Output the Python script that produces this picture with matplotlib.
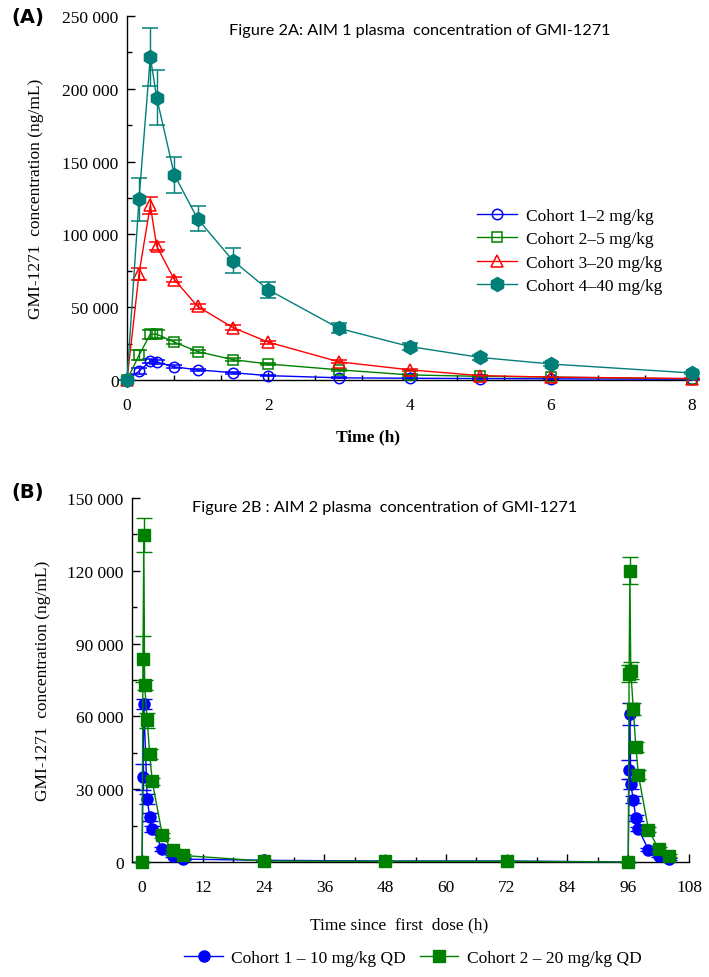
import matplotlib
matplotlib.use("Agg")
import matplotlib.pyplot as plt
from matplotlib.ticker import MultipleLocator, FuncFormatter

# --- Panel A: AIM 1, single dose (ng/mL) ---
time_a = [0, 0.17, 0.33, 0.42, 0.67, 1, 1.5, 2, 3, 4, 5, 6, 8]
c1_mean = [0, 6000, 13000, 12500, 9000, 7000, 5000, 3000, 1500, 1200, 1000, 800, 500]
c1_err = [0, 2000, 1500, 1500, 1000, 800, 600, 500, 300, 300, 300, 200, 200]
c2_mean = [0, 17000, 31500, 31500, 26000, 19500, 14000, 11000, 7000, 3500, 2500, 2000, 800]
c2_err = [0, 3500, 3000, 2500, 1500, 1200, 1000, 800, 600, 500, 400, 300, 200]
c3_mean = [0, 73000, 120000, 92000, 69000, 50500, 36000, 26000, 12500, 7000, 3000, 2000, 1000]
c3_err = [0, 4000, 6000, 3000, 2000, 2000, 1500, 1000, 1000, 800, 500, 400, 300]
c4_mean = [0, 124000, 222000, 194000, 141000, 110700, 82000, 62000, 35500, 23000, 15500, 11000, 4800]
c4_err = [0, 15000, 20000, 19000, 12500, 8500, 8500, 5500, 3500, 2500, 2000, 1500, 1000]

# --- Panel B: AIM 2, repeated daily dose (ng/mL) ---
time_b1 = [0, 0.17, 0.33, 1, 1.5, 2, 4, 6, 8, 24, 48, 72,
           96, 96.17, 96.33, 96.5, 97, 97.5, 98, 100, 102, 104]
qd10_mean = [0, 35000, 65000, 26000, 18500, 13600, 5400, 2500, 1200, 700, 400, 400,
             0, 38000, 61000, 32000, 25700, 18000, 13600, 5000, 2300, 1200]
qd10_err = [0, 5500, 2000, 2000, 1500, 1200, 800, 500, 300, 200, 100, 100,
            0, 4000, 4500, 2000, 1500, 1200, 1000, 600, 400, 300]
time_b2 = [0, 0.17, 0.33, 0.5, 1, 1.5, 2, 4, 6, 8, 24, 48, 72,
           96, 96.17, 96.33, 96.5, 97, 97.5, 98, 100, 102, 104]
qd20_mean = [0, 83800, 134600, 72800, 58400, 44400, 33200, 11000, 4800, 2700, 400, 300, 300,
             0, 77500, 120000, 78800, 63000, 47500, 36000, 13300, 5400, 2600]
qd20_err = [0, 9500, 7000, 2000, 3000, 2000, 1500, 1000, 700, 500, 100, 100, 100,
            0, 3500, 5500, 3500, 2500, 2000, 2000, 1000, 800, 500]

serif = "Liberation Serif"
title_font = "Lato"
teal = "#007F78"


def thousands(v, _):
    return f"{int(round(v)):,}".replace(",", " ")


def style_axes(ax):
    for side in ("top", "right"):
        ax.spines[side].set_visible(False)
    for side in ("left", "bottom"):
        ax.spines[side].set_linewidth(1.0)
    ax.tick_params(which="major", direction="in", length=6, width=1.0,
                   labelsize=12.5)
    ax.tick_params(axis="y", which="major", pad=6)
    ax.tick_params(axis="x", which="major", pad=12)
    ax.tick_params(which="minor", direction="in", length=3.5, width=1.0)
    for lab in ax.get_xticklabels() + ax.get_yticklabels():
        lab.set_family(serif)
    ax.yaxis.set_major_formatter(FuncFormatter(thousands))


fig = plt.figure(figsize=(7.09, 9.78), dpi=100)
W, H = 709, 978

# Panel A
ax1 = fig.add_axes([127 / W, 1 - 381 / H, (692 - 127) / W, (381 - 17) / H])
series_a = [
    (c1_mean, c1_err, "Cohort 1\u20132 mg/kg", "blue", "o", "none", 7.5),
    (c2_mean, c2_err, "Cohort 2\u20135 mg/kg", "#008000", "s", "none", 7.5),
    (c3_mean, c3_err, "Cohort 3\u201320 mg/kg", "red", "^", "none", 8.5),
    (c4_mean, c4_err, "Cohort 4\u201340 mg/kg", teal, "h", teal, 10),
]
for mean, err, label, col, mk, face, ms in series_a:
    ax1.errorbar(time_a, mean, yerr=err, color=col, marker=mk, mfc=face, mec=col,
                 ms=ms, mew=1.1, lw=1.0, elinewidth=1.0, capsize=6, capthick=1.0,
                 label=label, clip_on=False, zorder=3)
ax1.set_xlim(0, 8)
ax1.set_ylim(0, 250000)
ax1.xaxis.set_major_locator(MultipleLocator(2))
ax1.xaxis.set_minor_locator(MultipleLocator(2 / 3))
ax1.yaxis.set_major_locator(MultipleLocator(50000))
ax1.yaxis.set_minor_locator(MultipleLocator(25000))
style_axes(ax1)
ax1.set_xlabel("Time (h)", family=serif, fontsize=12.5, fontweight="bold")
ax1.xaxis.set_label_coords((368 - 127) / (692 - 127), -(429 - 381) / (381 - 17))
ax1.set_ylabel("GMI-1271  concentration (ng/mL)", family=serif, fontsize=12.5)
ax1.yaxis.set_label_coords(-(127 - 44) / (692 - 127), 0.5)

handles, labels = ax1.get_legend_handles_labels()
handles = [h[0] for h in handles]
fig.legend(handles, labels, loc="center left",
           bbox_to_anchor=(470 / W, 1 - 252 / H), frameon=False,
           prop={"family": serif, "size": 12.5}, handlelength=2.3,
           handletextpad=0.55, labelspacing=0.42, borderaxespad=0)

fig.text(420 / W, 1 - 31 / H, "Figure 2A: AIM 1 plasma  concentration of GMI-1271",
         ha="center", va="center", family=title_font, fontsize=11.7)
fig.text(11 / W, 1 - 17 / H, "(A)", ha="left", va="center", family="DejaVu Sans",
         fontsize=14, fontweight="bold")

# Panel B
ax2 = fig.add_axes([132 / W, 1 - 863 / H, (689 - 132) / W, (863 - 499) / H])
ax2.errorbar(time_b1, qd10_mean, yerr=qd10_err, color="blue", marker="o",
             ms=8, lw=1.0, elinewidth=1.0, capsize=6, capthick=1.0,
             label="Cohort 1 \u2013 10 mg/kg QD", clip_on=False, zorder=3)
ax2.errorbar(time_b2, qd20_mean, yerr=qd20_err, color="#008000", marker="s",
             ms=8, lw=1.0, elinewidth=1.0, capsize=6, capthick=1.0,
             label="Cohort 2 \u2013 20 mg/kg QD", clip_on=False, zorder=4)
ax2.set_xlim(-2, 108)
ax2.set_ylim(0, 150000)
ax2.xaxis.set_major_locator(MultipleLocator(12))
ax2.xaxis.set_minor_locator(MultipleLocator(6))
ax2.yaxis.set_major_locator(MultipleLocator(30000))
ax2.yaxis.set_minor_locator(MultipleLocator(15000))
style_axes(ax2)
ax2.set_xlabel("Time since  first  dose (h)", family=serif, fontsize=12.5)
ax2.xaxis.set_label_coords(0.48, -(917 - 863) / (863 - 499))
ax2.set_ylabel("GMI-1271  concentration (ng/mL)", family=serif, fontsize=12.5)
ax2.yaxis.set_label_coords(-(132 - 51) / (689 - 132), 0.5)

handles, labels = ax2.get_legend_handles_labels()
handles = [h[0] for h in handles]
fig.legend(handles, labels, loc="center", ncol=2,
           bbox_to_anchor=(413 / W, 1 - 959 / H), frameon=False,
           prop={"family": serif, "size": 12.5}, handlelength=2.2,
           handletextpad=0.5, columnspacing=0.8, borderaxespad=0)

fig.text(385 / W, 1 - 508 / H, "Figure 2B : AIM 2 plasma  concentration of GMI-1271",
         ha="center", va="center", family=title_font, fontsize=11.7)
fig.text(11 / W, 1 - 493 / H, "(B)", ha="left", va="center", family="DejaVu Sans",
         fontsize=14, fontweight="bold")

fig.savefig("out.png", dpi=100)
